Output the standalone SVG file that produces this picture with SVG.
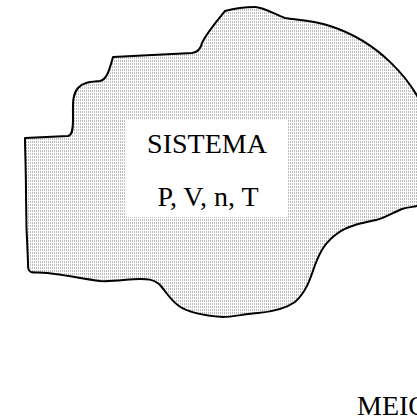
<svg xmlns="http://www.w3.org/2000/svg" width="417" height="419" viewBox="0 0 417 419">
<defs>
<pattern id="dots" x="0" y="0" width="2" height="3" patternUnits="userSpaceOnUse">
<rect x="0" y="0" width="1" height="2" fill="#bcbcbc"/>
</pattern>
<style>
.lbl{font-family:"Liberation Serif","Times New Roman",serif;font-size:28px;fill:#000}
.outline{fill:url(#dots);stroke:#000;stroke-width:2;stroke-linejoin:round}
</style>
</defs>
<rect width="417" height="419" fill="#fff"/>
<g id="sistema">
<path class="outline" d="M25,138 L68,136 C72,135 73,130 73,120 C73,104 72,95 78,88 C83,82 90,82 100,81 C106,80 109,72 113,57 L192,53 C199,52 201,48 202,43 C206,34 216,22 225,11 C236,8 248,7 255,7 C263,7 274,14 285,18 C296,20 312,20 330,26 C380,42 410,80 422,105 L422,205 C414,207 408,207 402,209 C394,212 385,218 376,220 C362,223 347,226 338,233 C325,242 320,252 315,265 C310,280 306,292 295,302 C285,309 270,312 258,313 C245,314 232,317 223,317 C208,316 190,314 179,306 C170,300 165,290 159,284 C153,279 147,279 140,279 C128,279 113,282 100,281 C85,279 70,276 55,274 C43,272 35,273 31,272 C28,271 28,268 28,262 C27,245 26,220 26,195 C26,170 25,150 25,138 Z"/>
<rect x="125" y="120" width="162" height="97" fill="#fff"/>
<text class="lbl" x="207" y="153" text-anchor="middle">SISTEMA</text>
<text class="lbl" x="208" y="206" text-anchor="middle">P, V, n, T</text>
</g>
<g id="meio">
<text class="lbl" x="357" y="415">MEIO</text>
</g>
<g id="connectors"/>
</svg>
